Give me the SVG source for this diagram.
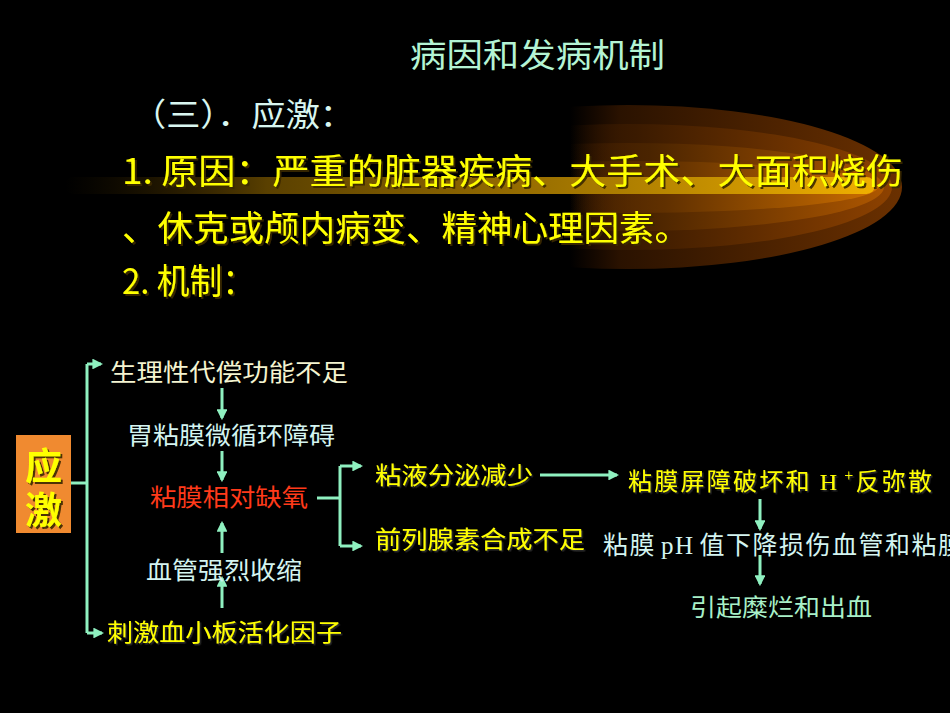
<svg xmlns="http://www.w3.org/2000/svg" width="950" height="713" viewBox="0 0 950 713">
<defs>
<style>
.cn{font-family:"Noto Sans CJK SC","Noto Sans",sans-serif;}
.big{font-size:35px;fill:#ffff00;filter:url(#sh);}
.dg{font-size:24px;}
.yel{fill:#ffff00;filter:url(#sh2);}
.cy{fill:#d4f4f0;}
.cr{fill:#f4f4d0;}
.mint{fill:#a8f0c8;}
.red{fill:#ff3a1a;}
.ln{stroke:#8ff0c0;stroke-width:3;fill:none;}
.ar{stroke:#8ff0c0;stroke-width:3;fill:none;marker-end:url(#ah);}
</style>
<marker id="ah" viewBox="0 0 10 10" refX="8" refY="5" markerWidth="3.6" markerHeight="3.6" orient="auto" markerUnits="strokeWidth">
<path d="M0,0 L10,5 L0,10 z" fill="#8ff0c0"/>
</marker>
<filter id="sh" x="-10%" y="-10%" width="120%" height="120%">
<feDropShadow dx="2" dy="2" stdDeviation="0.6" flood-color="#3a2a00" flood-opacity="0.9"/>
</filter>
<filter id="sh2" x="-5%" y="-20%" width="110%" height="140%">
<feDropShadow dx="1.5" dy="1.5" stdDeviation="0.5" flood-color="#333" flood-opacity="0.9"/>
</filter>
<linearGradient id="g1" gradientUnits="userSpaceOnUse" x1="570" y1="0" x2="900" y2="0">
<stop offset="0" stop-color="#2a1000" stop-opacity="0"/>
<stop offset="0.15" stop-color="#2a1200"/>
<stop offset="1" stop-color="#6a3000"/>
</linearGradient>
<linearGradient id="g2" gradientUnits="userSpaceOnUse" x1="570" y1="0" x2="895" y2="0">
<stop offset="0" stop-color="#3a1a00" stop-opacity="0"/>
<stop offset="0.2" stop-color="#3a1a00"/>
<stop offset="1" stop-color="#8e4200"/>
</linearGradient>
<linearGradient id="g3" gradientUnits="userSpaceOnUse" x1="570" y1="0" x2="890" y2="0">
<stop offset="0" stop-color="#4a2200" stop-opacity="0"/>
<stop offset="0.25" stop-color="#4a2400"/>
<stop offset="1" stop-color="#b05800"/>
</linearGradient>
<linearGradient id="g4" gradientUnits="userSpaceOnUse" x1="570" y1="0" x2="885" y2="0">
<stop offset="0" stop-color="#5a2c00" stop-opacity="0"/>
<stop offset="0.3" stop-color="#603000"/>
<stop offset="1" stop-color="#d07000"/>
</linearGradient>
<linearGradient id="gb" gradientUnits="userSpaceOnUse" x1="65" y1="0" x2="875" y2="0">
<stop offset="0" stop-color="#302000" stop-opacity="0"/>
<stop offset="0.25" stop-color="#5a4000"/>
<stop offset="0.7" stop-color="#b08000"/>
<stop offset="1" stop-color="#f0b000"/>
</linearGradient>
</defs>
<rect width="950" height="713" fill="#000"/>
<g id="glow">
<ellipse cx="628" cy="187" rx="274" ry="82" fill="url(#g1)"/>
<ellipse cx="628" cy="187" rx="264" ry="63" fill="url(#g2)"/>
<ellipse cx="628" cy="187" rx="256" ry="44" fill="url(#g3)"/>
<ellipse cx="628" cy="187" rx="250" ry="26" fill="url(#g4)"/>
<rect x="65" y="177" width="810" height="17" rx="8.5" fill="url(#gb)"/>
</g>
<g id="header">
<text class="cn" x="410" y="67" font-size="33" fill="#b4f4d4" textLength="255" lengthAdjust="spacingAndGlyphs">病因和发病机制</text>
<text class="cn" x="132" y="126" font-size="32" fill="#d8f6f0" textLength="222" lengthAdjust="spacingAndGlyphs">（三）．应激：</text>
<text class="cn big" x="122" y="184" textLength="781" lengthAdjust="spacingAndGlyphs">1. 原因：严重的脏器疾病、大手术、大面积烧伤</text>
<text class="cn big" x="122" y="241" textLength="568" lengthAdjust="spacingAndGlyphs">、休克或颅内病变、精神心理因素。</text>
<text class="cn big" x="122" y="294" textLength="133" lengthAdjust="spacingAndGlyphs">2. 机制：</text>
</g>
<g id="connectors">
<path class="ln" d="M71,483 H87"/>
<path class="ln" d="M87,364 V633"/>
<path class="ar" d="M87,364 H101"/>
<path class="ar" d="M87,633 H102"/>
<path class="ar" d="M222,388 V418"/>
<path class="ar" d="M222,451 V480"/>
<path class="ar" d="M222,553 V523"/>
<path class="ar" d="M222,608 V578"/>
<path class="ln" d="M317,498 H340"/>
<path class="ln" d="M340,466 V546"/>
<path class="ar" d="M340,466 H361"/>
<path class="ar" d="M340,546 H361"/>
<path class="ar" d="M540,475 H617"/>
<path class="ar" d="M760,499 V529"/>
<path class="ar" d="M760,555 V584"/>
</g>
<g id="n-stress">
<rect x="16" y="435" width="55" height="98" fill="#f08a30"/>
<text class="cn" x="43.5" y="447" writing-mode="tb" font-size="37" font-weight="bold" letter-spacing="7" fill="#ffff00" filter="url(#sh)">应激</text>
</g>
<g id="n1"><text class="cn dg cr" x="110" y="381" textLength="238" lengthAdjust="spacingAndGlyphs">生理性代偿功能不足</text></g>
<g id="n2"><text class="cn dg cy" x="127" y="444" textLength="208" lengthAdjust="spacingAndGlyphs">胃粘膜微循环障碍</text></g>
<g id="n3"><text class="cn dg red" x="150" y="506" textLength="158" lengthAdjust="spacingAndGlyphs">粘膜相对缺氧</text></g>
<g id="n4"><text class="cn dg cy" x="146" y="579" textLength="156" lengthAdjust="spacingAndGlyphs">血管强烈收缩</text></g>
<g id="n5"><text class="cn dg yel" x="107" y="641" textLength="235" lengthAdjust="spacingAndGlyphs">刺激血小板活化因子</text></g>
<g id="n6"><text class="cn dg yel" x="375" y="484" textLength="158" lengthAdjust="spacingAndGlyphs">粘液分泌减少</text></g>
<g id="n7"><text class="cn dg yel" x="375" y="548" textLength="210" lengthAdjust="spacingAndGlyphs">前列腺素合成不足</text></g>
<g id="n8"><text class="cn dg yel" x="628" y="490" textLength="304" lengthAdjust="spacing">粘膜屏障破坏和<tspan font-family="Liberation Serif,serif" dx="8">H</tspan><tspan font-family="Liberation Serif,serif" font-size="16" dy="-9" dx="5">+</tspan><tspan dy="9">反弥散</tspan></text></g>
<g id="n9"><text class="cn cy" font-size="25" x="603" y="554" textLength="360" lengthAdjust="spacing">粘膜<tspan font-family="Liberation Serif,serif" dx="5">pH</tspan><tspan dx="5">值下降损伤血管和粘膜</tspan></text></g>
<g id="n10"><text class="cn dg mint" x="690" y="616" textLength="182" lengthAdjust="spacingAndGlyphs">引起糜烂和出血</text></g>
</svg>
